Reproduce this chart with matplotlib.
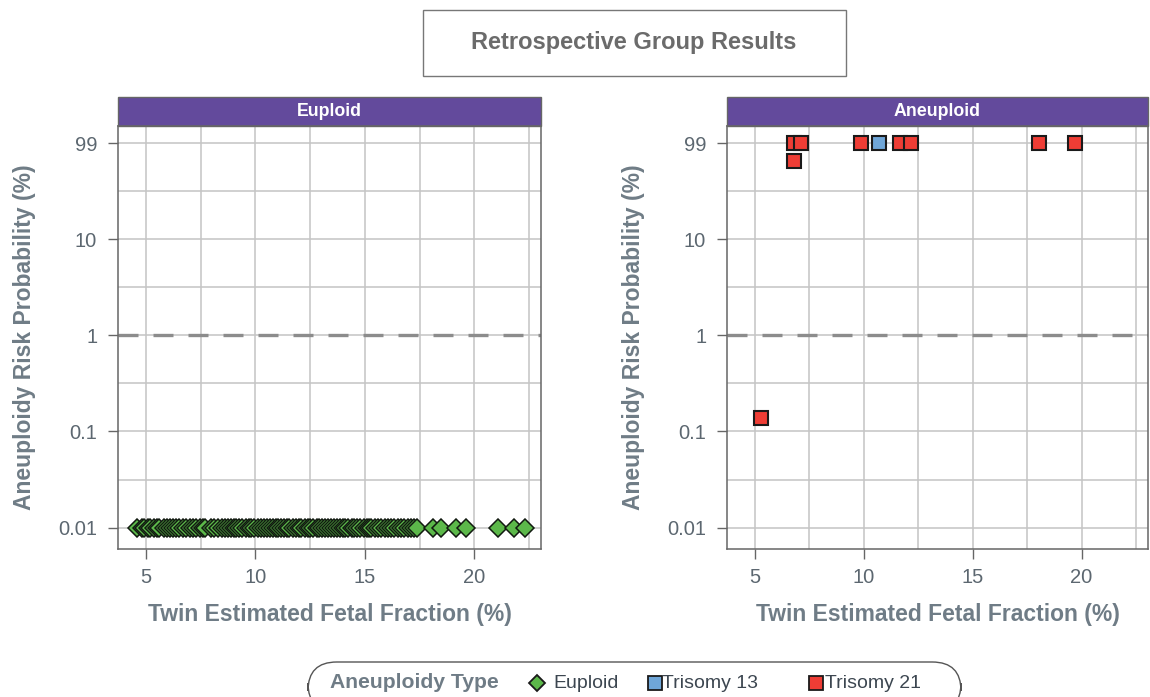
import numpy as np
import matplotlib.pyplot as plt
from matplotlib.lines import Line2D
from matplotlib.patches import FancyBboxPatch, Rectangle
from matplotlib.ticker import FixedLocator, NullFormatter

plt.rcParams['font.family'] = ['Liberation Sans', 'DejaVu Sans']

# euploid group: risk at floor 0.01 %
euploid_ff = [4.6, 4.8, 4.9, 5.1, 5.2, 5.35, 5.5, 5.6, 5.8, 5.95, 6.1, 6.25, 6.35,
              6.5, 6.7, 6.85, 7.0, 7.15, 7.3, 7.45, 7.6, 7.7, 7.95, 8.1, 8.3, 8.45,
              8.6, 8.75, 8.9, 9.0, 9.1, 9.25, 9.4, 9.55, 9.7, 9.8, 9.95, 10.1, 10.25,
              10.4, 10.55, 10.65, 10.8, 10.95, 11.05, 11.15, 11.3, 11.45, 11.55, 11.7,
              11.85, 12.0, 12.1, 12.25, 12.4, 12.5, 12.65, 12.8, 12.9, 13.05, 13.2,
              13.3, 13.45, 13.6, 13.75, 13.85, 14.0, 14.1, 14.25, 14.4, 14.5, 14.65,
              14.8, 14.95, 15.1, 15.2, 15.3, 15.45, 15.6, 15.75, 15.9, 16.05, 16.2,
              16.35, 16.5, 16.65, 16.8, 16.95, 17.1, 17.25, 17.4, 18.1, 18.5, 19.15,
              19.6, 21.1, 21.8, 22.3]
euploid_risk = [0.01] * len(euploid_ff)

t13_ff = [10.7]
t13_risk = [99]

t21_ff = [6.8, 7.1, 6.8, 9.85, 11.65, 12.15, 18.05, 19.7, 5.3]
t21_risk = [99, 99, 65, 99, 99, 99, 99, 99, 0.137]

y_ticks = [0.01, 0.1, 1, 10, 99]
y_tick_labels = ['0.01', '0.1', '1', '10', '99']
x_ticks = [5, 10, 15, 20]

GREEN = '#5cb84a'
BLUE = '#6fa6d8'
RED = '#ee3d35'
PURPLE = '#634a9c'
TXT = '#6f7c86'
TICK_TXT = '#5c6770'
GRID = '#c4c4c4'
SPINE = '#666666'

W, H = 1150, 697
fig = plt.figure(figsize=(W / 100, H / 100), dpi=100)


def px_axes(x0, y0, x1, y1):
    return fig.add_axes([x0 / W, 1 - y1 / H, (x1 - x0) / W, (y1 - y0) / H])


def style_panel(ax, strip_title):
    ax.set_yscale('log')
    ax.set_ylim(0.006, 150)
    ax.set_xlim(3.72, 23.05)
    ax.set_yticks(y_ticks)
    ax.set_yticklabels(y_tick_labels)
    ax.yaxis.set_minor_locator(FixedLocator([0.0316, 0.316, 3.16, 31.6]))
    ax.yaxis.set_minor_formatter(NullFormatter())
    ax.set_xticks(x_ticks)
    ax.xaxis.set_minor_locator(FixedLocator([7.5, 12.5, 17.5, 22.5]))
    ax.grid(True, which='both', color=GRID, lw=1.1, zorder=0)
    ax.set_axisbelow(True)
    ax.tick_params(which='major', length=7, width=1, color=SPINE,
                   labelsize=14.5, labelcolor=TICK_TXT)
    ax.tick_params(axis='y', which='major', pad=8)
    ax.tick_params(axis='x', which='major', pad=7)
    ax.tick_params(which='minor', length=0)
    for sp in ax.spines.values():
        sp.set_color(SPINE)
        sp.set_linewidth(1.1)
    ax.axhline(1, color='#8c8c8c', lw=2.4, dashes=(6, 4.5), zorder=1)
    ax.set_xlabel('Twin Estimated Fetal Fraction (%)', fontsize=16.5,
                  fontweight='bold', color=TXT, labelpad=11)
    ax.set_ylabel('Aneuploidy Risk Probability (%)', fontsize=16.5,
                  fontweight='bold', color=TXT, labelpad=16)
    # facet strip
    strip = Rectangle((0, 1), 1, 29 / 423, transform=ax.transAxes,
                      facecolor=PURPLE, edgecolor=SPINE, lw=1.0, clip_on=False)
    ax.add_patch(strip)
    ax.text(0.5, 1 + 14.5 / 423, strip_title, transform=ax.transAxes,
            ha='center', va='center', color='white', fontsize=12.8,
            fontweight='bold')


ax1 = px_axes(118, 126, 541, 549)
style_panel(ax1, 'Euploid')
ax1.plot(euploid_ff, euploid_risk, ls='none', marker='D', ms=9.5,
         mfc=GREEN, mec='#111a10', mew=1.1, zorder=3, clip_on=False)

ax2 = px_axes(727, 126, 1148, 549)
style_panel(ax2, 'Aneuploid')
ax2.plot(t21_ff, t21_risk, ls='none', marker='s', ms=10.5,
         mfc=RED, mec='#1a1a1a', mew=1.5, zorder=3, clip_on=False)
ax2.plot(t13_ff, t13_risk, ls='none', marker='s', ms=10.5,
         mfc=BLUE, mec='#1a1a1a', mew=1.5, zorder=4, clip_on=False)

# title box
fig.patches.append(Rectangle((423 / W, 1 - 76 / H), 423 / W, 66 / H,
                             transform=fig.transFigure, facecolor='white',
                             edgecolor='#777777', lw=1.0))
fig.text(634 / W, 1 - 43 / H, 'Retrospective Group Results', ha='center',
         va='center', fontsize=17, fontweight='bold', color='#6b6b6b')

# legend
fig.patches.append(FancyBboxPatch((308 / W, 1 - 712 / H), 653 / W, 50 / H,
                                  boxstyle='round,pad=0,rounding_size=0.025',
                                  transform=fig.transFigure, facecolor='white',
                                  edgecolor='#555555', lw=1.0, mutation_aspect=W / H))
ly = 1 - 683 / H
fig.text(330 / W, ly, 'Aneuploidy Type', ha='left', va='center', fontsize=15.2,
         fontweight='bold', color=TXT)
legend_items = [('Euploid', 'D', GREEN, 537, 553, 8.5),
                ('Trisomy 13', 's', BLUE, 655, 662, 10),
                ('Trisomy 21', 's', RED, 816, 825, 10)]
for label, mk, col, mx, tx, ms in legend_items:
    fig.add_artist(Line2D([mx / W], [ly], marker=mk, ms=ms, mfc=col,
                          mec='#1a1a1a', mew=1.3, ls='none',
                          transform=fig.transFigure))
    fig.text(tx / W, ly, label, ha='left', va='center', fontsize=14,
             color='#3c4650')

fig.savefig('out.png', dpi=100)
